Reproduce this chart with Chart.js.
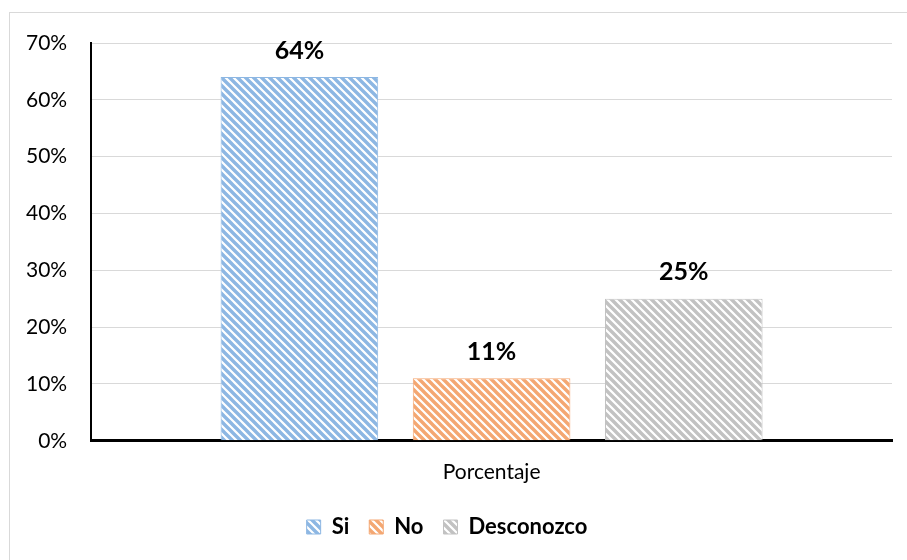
<!DOCTYPE html>
<html>
<head>
<meta charset="utf-8">
<script src="https://cdn.jsdelivr.net/npm/chart.js@4.4.0/dist/chart.umd.min.js"></script>
<style>
  body{margin:0;background:#fff;overflow:hidden}
  #frame{position:absolute;left:9px;top:12px;width:950px;height:600px;border:1px solid #d9d9d9}
  #wrap{position:absolute;left:0;top:0;width:907px;height:560px}
</style>
</head>
<body>
<div id="frame"></div>
<div id="wrap"><canvas id="myChart"></canvas></div>
<script>
// Data
var categories = ['Porcentaje']
var seriesNames = ['Si', 'No', 'Desconozco']
var seriesValues = [0.64, 0.11, 0.25]
var seriesColors = ['#8db7e3', '#f4a772', '#c2c2c2']
var yTicks = [0, 0.1, 0.2, 0.3, 0.4, 0.5, 0.6, 0.7]

var FONT = 'Lato, "Open Sans", sans-serif'

// diagonal hatch fill
function hatch(color){
    var c = document.createElement('canvas')
    c.width = 8; c.height = 8
    var g = c.getContext('2d')
    g.fillStyle = '#ffffff'
    g.fillRect(0, 0, 8, 8)
    g.strokeStyle = color
    g.lineWidth = 3.4
    g.beginPath()
    g.moveTo(-4, -4); g.lineTo(12, 12)
    g.moveTo(-4, 4); g.lineTo(4, 12)
    g.moveTo(4, -4); g.lineTo(12, 4)
    g.stroke()
    return g.createPattern(c, 'repeat')
}

// value labels above bars
var valueLabels = {
    id: 'valueLabels',
    afterDatasetsDraw(chart){
        var ctx = chart.ctx
        ctx.save()
        ctx.font = 'bold 25px ' + FONT
        ctx.fillStyle = '#000'
        ctx.textAlign = 'center'
        ctx.textBaseline = 'bottom'
        chart.data.datasets.forEach(function(ds, i){
            chart.getDatasetMeta(i).data.forEach(function(bar, j){
                ctx.fillText(Math.round(ds.data[j] * 100) + '%', bar.x, bar.y - 14)
            })
        })
        ctx.restore()
    }
}

var datasets = seriesNames.map(function(name, i){
    return {
        label: name,
        data: [seriesValues[i]],
        backgroundColor: hatch(seriesColors[i]),
        borderColor: seriesColors[i],
        borderWidth: 1
    }
})

new Chart(document.getElementById('myChart'), {
    type: 'bar',
    data: { labels: categories, datasets: datasets },
    plugins: [valueLabels],
    options: {
        responsive: true,
        maintainAspectRatio: false,
        animation: false,
        categoryPercentage: 0.72,
        barPercentage: 0.82,
        layout: { padding: { left: 2, right: 15, top: 43, bottom: 12 } },
        plugins: {
            legend: {
                position: 'bottom',
                labels: {
                    color: '#000',
                    font: { family: FONT, size: 22, weight: 'bold' },
                    boxWidth: 14,
                    boxHeight: 14,
                    padding: 20
                }
            },
            tooltip: { enabled: false }
        },
        scales: {
            x: {
                grid: { display: false },
                border: { color: '#000', width: 3 },
                ticks: { color: '#000', font: { family: FONT, size: 21 }, padding: 11 }
            },
            y: {
                min: 0,
                max: 0.7,
                afterBuildTicks: function(axis){
                    axis.ticks = yTicks.map(function(v){ return { value: v } })
                },
                grid: { color: '#d9d9d9', lineWidth: 1, drawTicks: false },
                border: { color: '#000', width: 2 },
                ticks: {
                    color: '#000',
                    font: { family: FONT, size: 21 },
                    padding: 24,
                    callback: function(v){ return Math.round(v * 100) + '%' }
                }
            }
        }
    }
})
</script>
</body>
</html>
